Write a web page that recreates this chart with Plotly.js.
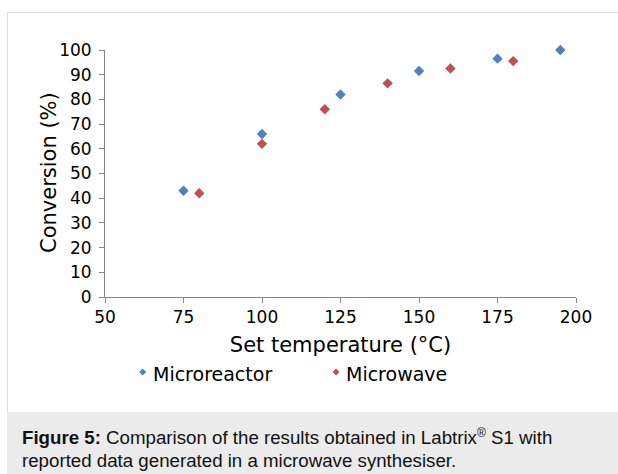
<!DOCTYPE html>
<html>
<head>
<meta charset="utf-8">
<script src="https://cdn.plot.ly/plotly-3.0.1.min.js"></script>
<style>
  html, body { margin: 0; padding: 0; background: #fff; }
  #wrap { position: relative; width: 618px; height: 474px; overflow: hidden; background: #fff; }
  #frame { position: absolute; left: 7px; top: 12px; right: -2px; bottom: -2px; border-left: 1px solid #dcdcdc; border-top: 1px solid #dcdcdc; }
  #chart { position: absolute; left: 0; top: 0; width: 618px; height: 474px; }
  #caption { position: absolute; left: 7px; top: 412px; width: 611px; height: 62px; background: #ebebeb;
     font-family: "Liberation Sans", Arial, sans-serif; font-size: 18.7px; line-height: 23px; color: #111;
     padding: 14px 0 0 15px; box-sizing: border-box; white-space: nowrap; }
  #caption sup { font-size: 12px; line-height: 0; }
</style>
</head>
<body>
<div id="wrap">
  <div id="frame"></div>
  <div id="chart"></div>
  <div id="caption"><b>Figure 5:</b> Comparison of the results obtained in Labtrix<sup>®</sup> S1 with<br>reported data generated in a microwave synthesiser.</div>
</div>
<script>
// Data
const microreactorTemp = [75, 100, 125, 150, 175, 195];
const microreactorConv = [43, 66, 82, 91.5, 96.5, 100];
const microwaveTemp = [80, 100, 120, 140, 160, 180];
const microwaveConv = [42, 62, 76, 86.5, 92.5, 95.5];
const seriesNames = ["Microreactor", "Microwave"];
const seriesColors = ["#4F81BD", "#C0504D"];
const xTicks = [50, 75, 100, 125, 150, 175, 200];
const yTicks = [0, 10, 20, 30, 40, 50, 60, 70, 80, 90, 100];

const font = "DejaVu Sans, sans-serif";

const traces = [
  { x: microreactorTemp, y: microreactorConv, name: seriesNames[0], type: "scatter", mode: "markers",
    marker: { symbol: "diamond", size: 8, color: seriesColors[0] }, showlegend: false, cliponaxis: false },
  { x: microwaveTemp, y: microwaveConv, name: seriesNames[1], type: "scatter", mode: "markers",
    marker: { symbol: "diamond", size: 8, color: seriesColors[1] }, showlegend: false, cliponaxis: false }
];

// manual legend (markers as pixel-sized shapes, labels as annotations)
const legendX = [142.7, 336];   // pixel positions of legend markers
const legendY = 372;
const L = 105, T = 50, W = 618 - 105 - 42, H = 474 - 50 - 177;
const shapes = [];
const annotations = [];
seriesNames.forEach((n, i) => {
  const px = (legendX[i] - L) / W;
  const py = 1 - (legendY - T) / H;
  shapes.push({ type: "path", xref: "paper", yref: "paper", xsizemode: "pixel", ysizemode: "pixel",
    xanchor: px, yanchor: py, path: "M-3.5,0L0,3.5L3.5,0L0,-3.5Z",
    fillcolor: seriesColors[i], line: { width: 0 } });
  annotations.push({ xref: "paper", yref: "paper", x: (legendX[i] + 8 - L) / W, y: 1 - (legendY + 2 - T) / H,
    xanchor: "left", yanchor: "middle", showarrow: false, text: n,
    font: { family: font, size: 19, color: "#000" } });
});
// y-axis title
annotations.push({ xref: "paper", yref: "paper", x: (49 - L) / W, y: 1 - (173 - T) / H,
  xanchor: "center", yanchor: "middle", showarrow: false, textangle: -90, text: "Conversion (%)",
  font: { family: font, size: 21, color: "#000" } });

const layout = {
  width: 618, height: 474,
  margin: { l: 105, r: 42, t: 50, b: 177, pad: 0 },
  paper_bgcolor: "rgba(0,0,0,0)", plot_bgcolor: "rgba(0,0,0,0)",
  font: { family: font, color: "#000" },
  xaxis: {
    range: [50, 200], tickvals: xTicks, ticktext: xTicks.map(String),
    showgrid: false, zeroline: false, showline: true, linecolor: "#868686", linewidth: 1,
    ticks: "outside", ticklen: 5, tickcolor: "#868686", tickfont: { family: font, size: 17, color: "#000" },
    title: { text: "Set temperature (°C)", font: { family: font, size: 21, color: "#000" }, standoff: 10 }
  },
  yaxis: {
    range: [0, 100], tickvals: yTicks, ticktext: yTicks.map(String),
    showgrid: false, zeroline: false, showline: true, linecolor: "#868686", linewidth: 1,
    ticks: "outside", ticklen: 5, tickcolor: "#868686", tickfont: { family: font, size: 17, color: "#000" },
    ticklabelstandoff: 4
  },
  shapes: shapes,
  annotations: annotations,
  showlegend: false
};

Plotly.newPlot("chart", traces, layout, { displayModeBar: false, staticPlot: true });
</script>
</body>
</html>
